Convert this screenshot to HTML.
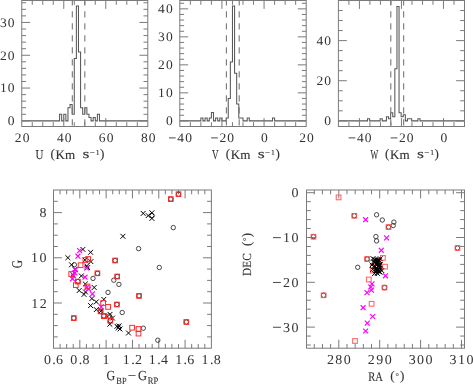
<!DOCTYPE html>
<html><head><meta charset="utf-8"><style>
html,body{margin:0;padding:0;background:#fff;}
svg{display:block;}
text{font-family:"Liberation Serif",serif;fill:#333;text-rendering:geometricPrecision;}
</style></head><body>
<svg width="473" height="384" viewBox="0 0 473 384">
<defs><filter id="gs" x="0" y="0" width="473" height="384" filterUnits="userSpaceOnUse"><feColorMatrix type="saturate" values="0"/></filter></defs>
<rect width="473" height="384" fill="#fff"/>
<path d="M21.75,120.85 L59.57,120.85 L59.57,114.29 L61.67,114.29 L61.67,120.85 L63.77,120.85 L63.77,114.29 L65.87,114.29 L65.87,120.85 L67.97,120.85 L67.97,107.73 L70.07,107.73 L70.07,104.45 L72.17,104.45 L72.17,114.29 L74.27,114.29 L74.27,58.53 L76.37,58.53 L76.37,6.05 L78.47,6.05 L78.47,51.97 L80.57,51.97 L80.57,107.73 L82.67,107.73 L82.67,114.29 L84.78,114.29 L84.78,107.73 L86.88,107.73 L86.88,114.29 L88.98,114.29 L88.98,117.57 L91.08,117.57 L91.08,120.85 L93.18,120.85 L93.18,117.57 L95.28,117.57 L95.28,120.85 L97.38,120.85 L97.38,114.29 L99.48,114.29 L99.48,120.85 L147.80,120.85" fill="none" stroke="#585858" stroke-width="1.05" stroke-linejoin="miter"/>
<line x1="72.32" y1="0.50" x2="72.32" y2="126.50" stroke="#777" stroke-width="1.1" stroke-dasharray="6.3 5.7" stroke-dashoffset="1.2"/>
<line x1="84.82" y1="0.50" x2="84.82" y2="126.50" stroke="#777" stroke-width="1.1" stroke-dasharray="6.3 5.7" stroke-dashoffset="1.2"/>
<rect x="21.75" y="0.50" width="126.05" height="126.00" fill="none" stroke="#7a7a7a" stroke-width="1.0"/>
<line x1="32.25" y1="126.50" x2="32.25" y2="122.20" stroke="#7a7a7a" stroke-width="1.0" />
<line x1="32.25" y1="0.50" x2="32.25" y2="4.80" stroke="#7a7a7a" stroke-width="1.0" />
<line x1="42.76" y1="126.50" x2="42.76" y2="122.20" stroke="#7a7a7a" stroke-width="1.0" />
<line x1="42.76" y1="0.50" x2="42.76" y2="4.80" stroke="#7a7a7a" stroke-width="1.0" />
<line x1="53.26" y1="126.50" x2="53.26" y2="122.20" stroke="#7a7a7a" stroke-width="1.0" />
<line x1="53.26" y1="0.50" x2="53.26" y2="4.80" stroke="#7a7a7a" stroke-width="1.0" />
<line x1="63.77" y1="126.50" x2="63.77" y2="118.10" stroke="#7a7a7a" stroke-width="1.0" />
<line x1="63.77" y1="0.50" x2="63.77" y2="8.90" stroke="#7a7a7a" stroke-width="1.0" />
<line x1="74.27" y1="126.50" x2="74.27" y2="122.20" stroke="#7a7a7a" stroke-width="1.0" />
<line x1="74.27" y1="0.50" x2="74.27" y2="4.80" stroke="#7a7a7a" stroke-width="1.0" />
<line x1="84.78" y1="126.50" x2="84.78" y2="122.20" stroke="#7a7a7a" stroke-width="1.0" />
<line x1="84.78" y1="0.50" x2="84.78" y2="4.80" stroke="#7a7a7a" stroke-width="1.0" />
<line x1="95.28" y1="126.50" x2="95.28" y2="122.20" stroke="#7a7a7a" stroke-width="1.0" />
<line x1="95.28" y1="0.50" x2="95.28" y2="4.80" stroke="#7a7a7a" stroke-width="1.0" />
<line x1="105.78" y1="126.50" x2="105.78" y2="118.10" stroke="#7a7a7a" stroke-width="1.0" />
<line x1="105.78" y1="0.50" x2="105.78" y2="8.90" stroke="#7a7a7a" stroke-width="1.0" />
<line x1="116.29" y1="126.50" x2="116.29" y2="122.20" stroke="#7a7a7a" stroke-width="1.0" />
<line x1="116.29" y1="0.50" x2="116.29" y2="4.80" stroke="#7a7a7a" stroke-width="1.0" />
<line x1="126.79" y1="126.50" x2="126.79" y2="122.20" stroke="#7a7a7a" stroke-width="1.0" />
<line x1="126.79" y1="0.50" x2="126.79" y2="4.80" stroke="#7a7a7a" stroke-width="1.0" />
<line x1="137.30" y1="126.50" x2="137.30" y2="122.20" stroke="#7a7a7a" stroke-width="1.0" />
<line x1="137.30" y1="0.50" x2="137.30" y2="4.80" stroke="#7a7a7a" stroke-width="1.0" />
<line x1="21.75" y1="120.85" x2="30.15" y2="120.85" stroke="#7a7a7a" stroke-width="1.0" />
<line x1="147.80" y1="120.85" x2="139.40" y2="120.85" stroke="#7a7a7a" stroke-width="1.0" />
<line x1="21.75" y1="114.29" x2="26.05" y2="114.29" stroke="#7a7a7a" stroke-width="1.0" />
<line x1="147.80" y1="114.29" x2="143.50" y2="114.29" stroke="#7a7a7a" stroke-width="1.0" />
<line x1="21.75" y1="107.73" x2="26.05" y2="107.73" stroke="#7a7a7a" stroke-width="1.0" />
<line x1="147.80" y1="107.73" x2="143.50" y2="107.73" stroke="#7a7a7a" stroke-width="1.0" />
<line x1="21.75" y1="101.17" x2="26.05" y2="101.17" stroke="#7a7a7a" stroke-width="1.0" />
<line x1="147.80" y1="101.17" x2="143.50" y2="101.17" stroke="#7a7a7a" stroke-width="1.0" />
<line x1="21.75" y1="94.61" x2="26.05" y2="94.61" stroke="#7a7a7a" stroke-width="1.0" />
<line x1="147.80" y1="94.61" x2="143.50" y2="94.61" stroke="#7a7a7a" stroke-width="1.0" />
<line x1="21.75" y1="88.05" x2="30.15" y2="88.05" stroke="#7a7a7a" stroke-width="1.0" />
<line x1="147.80" y1="88.05" x2="139.40" y2="88.05" stroke="#7a7a7a" stroke-width="1.0" />
<line x1="21.75" y1="81.49" x2="26.05" y2="81.49" stroke="#7a7a7a" stroke-width="1.0" />
<line x1="147.80" y1="81.49" x2="143.50" y2="81.49" stroke="#7a7a7a" stroke-width="1.0" />
<line x1="21.75" y1="74.93" x2="26.05" y2="74.93" stroke="#7a7a7a" stroke-width="1.0" />
<line x1="147.80" y1="74.93" x2="143.50" y2="74.93" stroke="#7a7a7a" stroke-width="1.0" />
<line x1="21.75" y1="68.37" x2="26.05" y2="68.37" stroke="#7a7a7a" stroke-width="1.0" />
<line x1="147.80" y1="68.37" x2="143.50" y2="68.37" stroke="#7a7a7a" stroke-width="1.0" />
<line x1="21.75" y1="61.81" x2="26.05" y2="61.81" stroke="#7a7a7a" stroke-width="1.0" />
<line x1="147.80" y1="61.81" x2="143.50" y2="61.81" stroke="#7a7a7a" stroke-width="1.0" />
<line x1="21.75" y1="55.25" x2="30.15" y2="55.25" stroke="#7a7a7a" stroke-width="1.0" />
<line x1="147.80" y1="55.25" x2="139.40" y2="55.25" stroke="#7a7a7a" stroke-width="1.0" />
<line x1="21.75" y1="48.69" x2="26.05" y2="48.69" stroke="#7a7a7a" stroke-width="1.0" />
<line x1="147.80" y1="48.69" x2="143.50" y2="48.69" stroke="#7a7a7a" stroke-width="1.0" />
<line x1="21.75" y1="42.13" x2="26.05" y2="42.13" stroke="#7a7a7a" stroke-width="1.0" />
<line x1="147.80" y1="42.13" x2="143.50" y2="42.13" stroke="#7a7a7a" stroke-width="1.0" />
<line x1="21.75" y1="35.57" x2="26.05" y2="35.57" stroke="#7a7a7a" stroke-width="1.0" />
<line x1="147.80" y1="35.57" x2="143.50" y2="35.57" stroke="#7a7a7a" stroke-width="1.0" />
<line x1="21.75" y1="29.01" x2="26.05" y2="29.01" stroke="#7a7a7a" stroke-width="1.0" />
<line x1="147.80" y1="29.01" x2="143.50" y2="29.01" stroke="#7a7a7a" stroke-width="1.0" />
<line x1="21.75" y1="22.45" x2="30.15" y2="22.45" stroke="#7a7a7a" stroke-width="1.0" />
<line x1="147.80" y1="22.45" x2="139.40" y2="22.45" stroke="#7a7a7a" stroke-width="1.0" />
<line x1="21.75" y1="15.89" x2="26.05" y2="15.89" stroke="#7a7a7a" stroke-width="1.0" />
<line x1="147.80" y1="15.89" x2="143.50" y2="15.89" stroke="#7a7a7a" stroke-width="1.0" />
<line x1="21.75" y1="9.33" x2="26.05" y2="9.33" stroke="#7a7a7a" stroke-width="1.0" />
<line x1="147.80" y1="9.33" x2="143.50" y2="9.33" stroke="#7a7a7a" stroke-width="1.0" />
<line x1="21.75" y1="2.77" x2="26.05" y2="2.77" stroke="#7a7a7a" stroke-width="1.0" />
<line x1="147.80" y1="2.77" x2="143.50" y2="2.77" stroke="#7a7a7a" stroke-width="1.0" />
<path d="M179.80,120.85 L200.87,120.85 L200.87,118.05 L202.97,118.05 L202.97,120.85 L205.08,120.85 L205.08,118.05 L207.19,118.05 L207.19,120.85 L209.29,120.85 L209.29,118.05 L211.40,118.05 L211.40,112.45 L213.51,112.45 L213.51,120.85 L215.61,120.85 L215.61,118.05 L217.72,118.05 L217.72,120.85 L219.83,120.85 L219.83,118.05 L221.93,118.05 L221.93,120.85 L226.15,120.85 L226.15,118.05 L228.25,118.05 L228.25,98.45 L230.36,98.45 L230.36,62.05 L232.47,62.05 L232.47,6.05 L234.57,6.05 L234.57,73.25 L236.68,73.25 L236.68,104.05 L238.79,104.05 L238.79,118.05 L243.00,118.05 L243.00,120.85 L247.21,120.85 L247.21,118.05 L249.32,118.05 L249.32,120.85 L272.49,120.85 L272.49,118.05 L274.60,118.05 L274.60,120.85 L306.20,120.85" fill="none" stroke="#585858" stroke-width="1.05" stroke-linejoin="miter"/>
<line x1="226.40" y1="0.50" x2="226.40" y2="126.50" stroke="#777" stroke-width="1.1" stroke-dasharray="6.3 5.7" stroke-dashoffset="1.2"/>
<line x1="239.21" y1="0.50" x2="239.21" y2="126.50" stroke="#777" stroke-width="1.1" stroke-dasharray="6.3 5.7" stroke-dashoffset="1.2"/>
<rect x="179.80" y="0.50" width="126.40" height="126.00" fill="none" stroke="#7a7a7a" stroke-width="1.0"/>
<line x1="190.33" y1="126.50" x2="190.33" y2="122.20" stroke="#7a7a7a" stroke-width="1.0" />
<line x1="190.33" y1="0.50" x2="190.33" y2="4.80" stroke="#7a7a7a" stroke-width="1.0" />
<line x1="200.87" y1="126.50" x2="200.87" y2="122.20" stroke="#7a7a7a" stroke-width="1.0" />
<line x1="200.87" y1="0.50" x2="200.87" y2="4.80" stroke="#7a7a7a" stroke-width="1.0" />
<line x1="211.40" y1="126.50" x2="211.40" y2="122.20" stroke="#7a7a7a" stroke-width="1.0" />
<line x1="211.40" y1="0.50" x2="211.40" y2="4.80" stroke="#7a7a7a" stroke-width="1.0" />
<line x1="221.93" y1="126.50" x2="221.93" y2="118.10" stroke="#7a7a7a" stroke-width="1.0" />
<line x1="221.93" y1="0.50" x2="221.93" y2="8.90" stroke="#7a7a7a" stroke-width="1.0" />
<line x1="232.47" y1="126.50" x2="232.47" y2="122.20" stroke="#7a7a7a" stroke-width="1.0" />
<line x1="232.47" y1="0.50" x2="232.47" y2="4.80" stroke="#7a7a7a" stroke-width="1.0" />
<line x1="243.00" y1="126.50" x2="243.00" y2="122.20" stroke="#7a7a7a" stroke-width="1.0" />
<line x1="243.00" y1="0.50" x2="243.00" y2="4.80" stroke="#7a7a7a" stroke-width="1.0" />
<line x1="253.53" y1="126.50" x2="253.53" y2="122.20" stroke="#7a7a7a" stroke-width="1.0" />
<line x1="253.53" y1="0.50" x2="253.53" y2="4.80" stroke="#7a7a7a" stroke-width="1.0" />
<line x1="264.07" y1="126.50" x2="264.07" y2="118.10" stroke="#7a7a7a" stroke-width="1.0" />
<line x1="264.07" y1="0.50" x2="264.07" y2="8.90" stroke="#7a7a7a" stroke-width="1.0" />
<line x1="274.60" y1="126.50" x2="274.60" y2="122.20" stroke="#7a7a7a" stroke-width="1.0" />
<line x1="274.60" y1="0.50" x2="274.60" y2="4.80" stroke="#7a7a7a" stroke-width="1.0" />
<line x1="285.13" y1="126.50" x2="285.13" y2="122.20" stroke="#7a7a7a" stroke-width="1.0" />
<line x1="285.13" y1="0.50" x2="285.13" y2="4.80" stroke="#7a7a7a" stroke-width="1.0" />
<line x1="295.67" y1="126.50" x2="295.67" y2="122.20" stroke="#7a7a7a" stroke-width="1.0" />
<line x1="295.67" y1="0.50" x2="295.67" y2="4.80" stroke="#7a7a7a" stroke-width="1.0" />
<line x1="179.80" y1="120.85" x2="188.20" y2="120.85" stroke="#7a7a7a" stroke-width="1.0" />
<line x1="306.20" y1="120.85" x2="297.80" y2="120.85" stroke="#7a7a7a" stroke-width="1.0" />
<line x1="179.80" y1="115.25" x2="184.10" y2="115.25" stroke="#7a7a7a" stroke-width="1.0" />
<line x1="306.20" y1="115.25" x2="301.90" y2="115.25" stroke="#7a7a7a" stroke-width="1.0" />
<line x1="179.80" y1="109.65" x2="184.10" y2="109.65" stroke="#7a7a7a" stroke-width="1.0" />
<line x1="306.20" y1="109.65" x2="301.90" y2="109.65" stroke="#7a7a7a" stroke-width="1.0" />
<line x1="179.80" y1="104.05" x2="184.10" y2="104.05" stroke="#7a7a7a" stroke-width="1.0" />
<line x1="306.20" y1="104.05" x2="301.90" y2="104.05" stroke="#7a7a7a" stroke-width="1.0" />
<line x1="179.80" y1="98.45" x2="184.10" y2="98.45" stroke="#7a7a7a" stroke-width="1.0" />
<line x1="306.20" y1="98.45" x2="301.90" y2="98.45" stroke="#7a7a7a" stroke-width="1.0" />
<line x1="179.80" y1="92.85" x2="188.20" y2="92.85" stroke="#7a7a7a" stroke-width="1.0" />
<line x1="306.20" y1="92.85" x2="297.80" y2="92.85" stroke="#7a7a7a" stroke-width="1.0" />
<line x1="179.80" y1="87.25" x2="184.10" y2="87.25" stroke="#7a7a7a" stroke-width="1.0" />
<line x1="306.20" y1="87.25" x2="301.90" y2="87.25" stroke="#7a7a7a" stroke-width="1.0" />
<line x1="179.80" y1="81.65" x2="184.10" y2="81.65" stroke="#7a7a7a" stroke-width="1.0" />
<line x1="306.20" y1="81.65" x2="301.90" y2="81.65" stroke="#7a7a7a" stroke-width="1.0" />
<line x1="179.80" y1="76.05" x2="184.10" y2="76.05" stroke="#7a7a7a" stroke-width="1.0" />
<line x1="306.20" y1="76.05" x2="301.90" y2="76.05" stroke="#7a7a7a" stroke-width="1.0" />
<line x1="179.80" y1="70.45" x2="184.10" y2="70.45" stroke="#7a7a7a" stroke-width="1.0" />
<line x1="306.20" y1="70.45" x2="301.90" y2="70.45" stroke="#7a7a7a" stroke-width="1.0" />
<line x1="179.80" y1="64.85" x2="188.20" y2="64.85" stroke="#7a7a7a" stroke-width="1.0" />
<line x1="306.20" y1="64.85" x2="297.80" y2="64.85" stroke="#7a7a7a" stroke-width="1.0" />
<line x1="179.80" y1="59.25" x2="184.10" y2="59.25" stroke="#7a7a7a" stroke-width="1.0" />
<line x1="306.20" y1="59.25" x2="301.90" y2="59.25" stroke="#7a7a7a" stroke-width="1.0" />
<line x1="179.80" y1="53.65" x2="184.10" y2="53.65" stroke="#7a7a7a" stroke-width="1.0" />
<line x1="306.20" y1="53.65" x2="301.90" y2="53.65" stroke="#7a7a7a" stroke-width="1.0" />
<line x1="179.80" y1="48.05" x2="184.10" y2="48.05" stroke="#7a7a7a" stroke-width="1.0" />
<line x1="306.20" y1="48.05" x2="301.90" y2="48.05" stroke="#7a7a7a" stroke-width="1.0" />
<line x1="179.80" y1="42.45" x2="184.10" y2="42.45" stroke="#7a7a7a" stroke-width="1.0" />
<line x1="306.20" y1="42.45" x2="301.90" y2="42.45" stroke="#7a7a7a" stroke-width="1.0" />
<line x1="179.80" y1="36.85" x2="188.20" y2="36.85" stroke="#7a7a7a" stroke-width="1.0" />
<line x1="306.20" y1="36.85" x2="297.80" y2="36.85" stroke="#7a7a7a" stroke-width="1.0" />
<line x1="179.80" y1="31.25" x2="184.10" y2="31.25" stroke="#7a7a7a" stroke-width="1.0" />
<line x1="306.20" y1="31.25" x2="301.90" y2="31.25" stroke="#7a7a7a" stroke-width="1.0" />
<line x1="179.80" y1="25.65" x2="184.10" y2="25.65" stroke="#7a7a7a" stroke-width="1.0" />
<line x1="306.20" y1="25.65" x2="301.90" y2="25.65" stroke="#7a7a7a" stroke-width="1.0" />
<line x1="179.80" y1="20.05" x2="184.10" y2="20.05" stroke="#7a7a7a" stroke-width="1.0" />
<line x1="306.20" y1="20.05" x2="301.90" y2="20.05" stroke="#7a7a7a" stroke-width="1.0" />
<line x1="179.80" y1="14.45" x2="184.10" y2="14.45" stroke="#7a7a7a" stroke-width="1.0" />
<line x1="306.20" y1="14.45" x2="301.90" y2="14.45" stroke="#7a7a7a" stroke-width="1.0" />
<line x1="179.80" y1="8.85" x2="188.20" y2="8.85" stroke="#7a7a7a" stroke-width="1.0" />
<line x1="306.20" y1="8.85" x2="297.80" y2="8.85" stroke="#7a7a7a" stroke-width="1.0" />
<line x1="179.80" y1="3.25" x2="184.10" y2="3.25" stroke="#7a7a7a" stroke-width="1.0" />
<line x1="306.20" y1="3.25" x2="301.90" y2="3.25" stroke="#7a7a7a" stroke-width="1.0" />
<path d="M338.40,120.85 L367.52,120.85 L367.52,118.84 L369.62,118.84 L369.62,120.85 L380.13,120.85 L380.13,118.84 L382.23,118.84 L382.23,120.85 L386.44,120.85 L386.44,116.84 L388.54,116.84 L388.54,118.84 L390.64,118.84 L390.64,112.83 L392.74,112.83 L392.74,116.84 L394.84,116.84 L394.84,68.69 L396.95,68.69 L396.95,6.51 L399.05,6.51 L399.05,112.83 L401.15,112.83 L401.15,116.84 L403.25,116.84 L403.25,114.83 L405.35,114.83 L405.35,120.85 L407.45,120.85 L407.45,118.84 L411.66,118.84 L411.66,120.85 L417.96,120.85 L417.96,118.84 L420.06,118.84 L420.06,120.85 L464.50,120.85" fill="none" stroke="#585858" stroke-width="1.05" stroke-linejoin="miter"/>
<line x1="390.79" y1="0.50" x2="390.79" y2="126.50" stroke="#777" stroke-width="1.1" stroke-dasharray="6.3 5.7" stroke-dashoffset="1.2"/>
<line x1="403.66" y1="0.50" x2="403.66" y2="126.50" stroke="#777" stroke-width="1.1" stroke-dasharray="6.3 5.7" stroke-dashoffset="1.2"/>
<rect x="338.40" y="0.50" width="126.10" height="126.00" fill="none" stroke="#7a7a7a" stroke-width="1.0"/>
<line x1="348.91" y1="126.50" x2="348.91" y2="122.20" stroke="#7a7a7a" stroke-width="1.0" />
<line x1="348.91" y1="0.50" x2="348.91" y2="4.80" stroke="#7a7a7a" stroke-width="1.0" />
<line x1="359.42" y1="126.50" x2="359.42" y2="118.10" stroke="#7a7a7a" stroke-width="1.0" />
<line x1="359.42" y1="0.50" x2="359.42" y2="8.90" stroke="#7a7a7a" stroke-width="1.0" />
<line x1="369.92" y1="126.50" x2="369.92" y2="122.20" stroke="#7a7a7a" stroke-width="1.0" />
<line x1="369.92" y1="0.50" x2="369.92" y2="4.80" stroke="#7a7a7a" stroke-width="1.0" />
<line x1="380.43" y1="126.50" x2="380.43" y2="122.20" stroke="#7a7a7a" stroke-width="1.0" />
<line x1="380.43" y1="0.50" x2="380.43" y2="4.80" stroke="#7a7a7a" stroke-width="1.0" />
<line x1="390.94" y1="126.50" x2="390.94" y2="122.20" stroke="#7a7a7a" stroke-width="1.0" />
<line x1="390.94" y1="0.50" x2="390.94" y2="4.80" stroke="#7a7a7a" stroke-width="1.0" />
<line x1="401.45" y1="126.50" x2="401.45" y2="118.10" stroke="#7a7a7a" stroke-width="1.0" />
<line x1="401.45" y1="0.50" x2="401.45" y2="8.90" stroke="#7a7a7a" stroke-width="1.0" />
<line x1="411.96" y1="126.50" x2="411.96" y2="122.20" stroke="#7a7a7a" stroke-width="1.0" />
<line x1="411.96" y1="0.50" x2="411.96" y2="4.80" stroke="#7a7a7a" stroke-width="1.0" />
<line x1="422.47" y1="126.50" x2="422.47" y2="122.20" stroke="#7a7a7a" stroke-width="1.0" />
<line x1="422.47" y1="0.50" x2="422.47" y2="4.80" stroke="#7a7a7a" stroke-width="1.0" />
<line x1="432.98" y1="126.50" x2="432.98" y2="122.20" stroke="#7a7a7a" stroke-width="1.0" />
<line x1="432.98" y1="0.50" x2="432.98" y2="4.80" stroke="#7a7a7a" stroke-width="1.0" />
<line x1="443.48" y1="126.50" x2="443.48" y2="118.10" stroke="#7a7a7a" stroke-width="1.0" />
<line x1="443.48" y1="0.50" x2="443.48" y2="8.90" stroke="#7a7a7a" stroke-width="1.0" />
<line x1="453.99" y1="126.50" x2="453.99" y2="122.20" stroke="#7a7a7a" stroke-width="1.0" />
<line x1="453.99" y1="0.50" x2="453.99" y2="4.80" stroke="#7a7a7a" stroke-width="1.0" />
<line x1="338.40" y1="120.85" x2="346.80" y2="120.85" stroke="#7a7a7a" stroke-width="1.0" />
<line x1="464.50" y1="120.85" x2="456.10" y2="120.85" stroke="#7a7a7a" stroke-width="1.0" />
<line x1="338.40" y1="110.82" x2="342.70" y2="110.82" stroke="#7a7a7a" stroke-width="1.0" />
<line x1="464.50" y1="110.82" x2="460.20" y2="110.82" stroke="#7a7a7a" stroke-width="1.0" />
<line x1="338.40" y1="100.79" x2="342.70" y2="100.79" stroke="#7a7a7a" stroke-width="1.0" />
<line x1="464.50" y1="100.79" x2="460.20" y2="100.79" stroke="#7a7a7a" stroke-width="1.0" />
<line x1="338.40" y1="90.76" x2="342.70" y2="90.76" stroke="#7a7a7a" stroke-width="1.0" />
<line x1="464.50" y1="90.76" x2="460.20" y2="90.76" stroke="#7a7a7a" stroke-width="1.0" />
<line x1="338.40" y1="80.73" x2="346.80" y2="80.73" stroke="#7a7a7a" stroke-width="1.0" />
<line x1="464.50" y1="80.73" x2="456.10" y2="80.73" stroke="#7a7a7a" stroke-width="1.0" />
<line x1="338.40" y1="70.70" x2="342.70" y2="70.70" stroke="#7a7a7a" stroke-width="1.0" />
<line x1="464.50" y1="70.70" x2="460.20" y2="70.70" stroke="#7a7a7a" stroke-width="1.0" />
<line x1="338.40" y1="60.67" x2="342.70" y2="60.67" stroke="#7a7a7a" stroke-width="1.0" />
<line x1="464.50" y1="60.67" x2="460.20" y2="60.67" stroke="#7a7a7a" stroke-width="1.0" />
<line x1="338.40" y1="50.64" x2="342.70" y2="50.64" stroke="#7a7a7a" stroke-width="1.0" />
<line x1="464.50" y1="50.64" x2="460.20" y2="50.64" stroke="#7a7a7a" stroke-width="1.0" />
<line x1="338.40" y1="40.61" x2="346.80" y2="40.61" stroke="#7a7a7a" stroke-width="1.0" />
<line x1="464.50" y1="40.61" x2="456.10" y2="40.61" stroke="#7a7a7a" stroke-width="1.0" />
<line x1="338.40" y1="30.58" x2="342.70" y2="30.58" stroke="#7a7a7a" stroke-width="1.0" />
<line x1="464.50" y1="30.58" x2="460.20" y2="30.58" stroke="#7a7a7a" stroke-width="1.0" />
<line x1="338.40" y1="20.55" x2="342.70" y2="20.55" stroke="#7a7a7a" stroke-width="1.0" />
<line x1="464.50" y1="20.55" x2="460.20" y2="20.55" stroke="#7a7a7a" stroke-width="1.0" />
<line x1="338.40" y1="10.52" x2="342.70" y2="10.52" stroke="#7a7a7a" stroke-width="1.0" />
<line x1="464.50" y1="10.52" x2="460.20" y2="10.52" stroke="#7a7a7a" stroke-width="1.0" />
<rect x="53.50" y="190.00" width="157.90" height="158.20" fill="none" stroke="#7a7a7a" stroke-width="1.0"/>
<line x1="60.08" y1="348.20" x2="60.08" y2="343.90" stroke="#7a7a7a" stroke-width="1.0" />
<line x1="60.08" y1="190.00" x2="60.08" y2="194.30" stroke="#7a7a7a" stroke-width="1.0" />
<line x1="66.66" y1="348.20" x2="66.66" y2="343.90" stroke="#7a7a7a" stroke-width="1.0" />
<line x1="66.66" y1="190.00" x2="66.66" y2="194.30" stroke="#7a7a7a" stroke-width="1.0" />
<line x1="73.24" y1="348.20" x2="73.24" y2="343.90" stroke="#7a7a7a" stroke-width="1.0" />
<line x1="73.24" y1="190.00" x2="73.24" y2="194.30" stroke="#7a7a7a" stroke-width="1.0" />
<line x1="79.82" y1="348.20" x2="79.82" y2="339.80" stroke="#7a7a7a" stroke-width="1.0" />
<line x1="79.82" y1="190.00" x2="79.82" y2="198.40" stroke="#7a7a7a" stroke-width="1.0" />
<line x1="86.40" y1="348.20" x2="86.40" y2="343.90" stroke="#7a7a7a" stroke-width="1.0" />
<line x1="86.40" y1="190.00" x2="86.40" y2="194.30" stroke="#7a7a7a" stroke-width="1.0" />
<line x1="92.97" y1="348.20" x2="92.97" y2="343.90" stroke="#7a7a7a" stroke-width="1.0" />
<line x1="92.97" y1="190.00" x2="92.97" y2="194.30" stroke="#7a7a7a" stroke-width="1.0" />
<line x1="99.55" y1="348.20" x2="99.55" y2="343.90" stroke="#7a7a7a" stroke-width="1.0" />
<line x1="99.55" y1="190.00" x2="99.55" y2="194.30" stroke="#7a7a7a" stroke-width="1.0" />
<line x1="106.13" y1="348.20" x2="106.13" y2="339.80" stroke="#7a7a7a" stroke-width="1.0" />
<line x1="106.13" y1="190.00" x2="106.13" y2="198.40" stroke="#7a7a7a" stroke-width="1.0" />
<line x1="112.71" y1="348.20" x2="112.71" y2="343.90" stroke="#7a7a7a" stroke-width="1.0" />
<line x1="112.71" y1="190.00" x2="112.71" y2="194.30" stroke="#7a7a7a" stroke-width="1.0" />
<line x1="119.29" y1="348.20" x2="119.29" y2="343.90" stroke="#7a7a7a" stroke-width="1.0" />
<line x1="119.29" y1="190.00" x2="119.29" y2="194.30" stroke="#7a7a7a" stroke-width="1.0" />
<line x1="125.87" y1="348.20" x2="125.87" y2="343.90" stroke="#7a7a7a" stroke-width="1.0" />
<line x1="125.87" y1="190.00" x2="125.87" y2="194.30" stroke="#7a7a7a" stroke-width="1.0" />
<line x1="132.45" y1="348.20" x2="132.45" y2="339.80" stroke="#7a7a7a" stroke-width="1.0" />
<line x1="132.45" y1="190.00" x2="132.45" y2="198.40" stroke="#7a7a7a" stroke-width="1.0" />
<line x1="139.03" y1="348.20" x2="139.03" y2="343.90" stroke="#7a7a7a" stroke-width="1.0" />
<line x1="139.03" y1="190.00" x2="139.03" y2="194.30" stroke="#7a7a7a" stroke-width="1.0" />
<line x1="145.61" y1="348.20" x2="145.61" y2="343.90" stroke="#7a7a7a" stroke-width="1.0" />
<line x1="145.61" y1="190.00" x2="145.61" y2="194.30" stroke="#7a7a7a" stroke-width="1.0" />
<line x1="152.19" y1="348.20" x2="152.19" y2="343.90" stroke="#7a7a7a" stroke-width="1.0" />
<line x1="152.19" y1="190.00" x2="152.19" y2="194.30" stroke="#7a7a7a" stroke-width="1.0" />
<line x1="158.77" y1="348.20" x2="158.77" y2="339.80" stroke="#7a7a7a" stroke-width="1.0" />
<line x1="158.77" y1="190.00" x2="158.77" y2="198.40" stroke="#7a7a7a" stroke-width="1.0" />
<line x1="165.35" y1="348.20" x2="165.35" y2="343.90" stroke="#7a7a7a" stroke-width="1.0" />
<line x1="165.35" y1="190.00" x2="165.35" y2="194.30" stroke="#7a7a7a" stroke-width="1.0" />
<line x1="171.92" y1="348.20" x2="171.92" y2="343.90" stroke="#7a7a7a" stroke-width="1.0" />
<line x1="171.92" y1="190.00" x2="171.92" y2="194.30" stroke="#7a7a7a" stroke-width="1.0" />
<line x1="178.50" y1="348.20" x2="178.50" y2="343.90" stroke="#7a7a7a" stroke-width="1.0" />
<line x1="178.50" y1="190.00" x2="178.50" y2="194.30" stroke="#7a7a7a" stroke-width="1.0" />
<line x1="185.08" y1="348.20" x2="185.08" y2="339.80" stroke="#7a7a7a" stroke-width="1.0" />
<line x1="185.08" y1="190.00" x2="185.08" y2="198.40" stroke="#7a7a7a" stroke-width="1.0" />
<line x1="191.66" y1="348.20" x2="191.66" y2="343.90" stroke="#7a7a7a" stroke-width="1.0" />
<line x1="191.66" y1="190.00" x2="191.66" y2="194.30" stroke="#7a7a7a" stroke-width="1.0" />
<line x1="198.24" y1="348.20" x2="198.24" y2="343.90" stroke="#7a7a7a" stroke-width="1.0" />
<line x1="198.24" y1="190.00" x2="198.24" y2="194.30" stroke="#7a7a7a" stroke-width="1.0" />
<line x1="204.82" y1="348.20" x2="204.82" y2="343.90" stroke="#7a7a7a" stroke-width="1.0" />
<line x1="204.82" y1="190.00" x2="204.82" y2="194.30" stroke="#7a7a7a" stroke-width="1.0" />
<line x1="53.50" y1="201.30" x2="57.80" y2="201.30" stroke="#7a7a7a" stroke-width="1.0" />
<line x1="211.40" y1="201.30" x2="207.10" y2="201.30" stroke="#7a7a7a" stroke-width="1.0" />
<line x1="53.50" y1="212.60" x2="61.90" y2="212.60" stroke="#7a7a7a" stroke-width="1.0" />
<line x1="211.40" y1="212.60" x2="203.00" y2="212.60" stroke="#7a7a7a" stroke-width="1.0" />
<line x1="53.50" y1="223.90" x2="57.80" y2="223.90" stroke="#7a7a7a" stroke-width="1.0" />
<line x1="211.40" y1="223.90" x2="207.10" y2="223.90" stroke="#7a7a7a" stroke-width="1.0" />
<line x1="53.50" y1="235.20" x2="57.80" y2="235.20" stroke="#7a7a7a" stroke-width="1.0" />
<line x1="211.40" y1="235.20" x2="207.10" y2="235.20" stroke="#7a7a7a" stroke-width="1.0" />
<line x1="53.50" y1="246.50" x2="57.80" y2="246.50" stroke="#7a7a7a" stroke-width="1.0" />
<line x1="211.40" y1="246.50" x2="207.10" y2="246.50" stroke="#7a7a7a" stroke-width="1.0" />
<line x1="53.50" y1="257.80" x2="61.90" y2="257.80" stroke="#7a7a7a" stroke-width="1.0" />
<line x1="211.40" y1="257.80" x2="203.00" y2="257.80" stroke="#7a7a7a" stroke-width="1.0" />
<line x1="53.50" y1="269.10" x2="57.80" y2="269.10" stroke="#7a7a7a" stroke-width="1.0" />
<line x1="211.40" y1="269.10" x2="207.10" y2="269.10" stroke="#7a7a7a" stroke-width="1.0" />
<line x1="53.50" y1="280.40" x2="57.80" y2="280.40" stroke="#7a7a7a" stroke-width="1.0" />
<line x1="211.40" y1="280.40" x2="207.10" y2="280.40" stroke="#7a7a7a" stroke-width="1.0" />
<line x1="53.50" y1="291.70" x2="57.80" y2="291.70" stroke="#7a7a7a" stroke-width="1.0" />
<line x1="211.40" y1="291.70" x2="207.10" y2="291.70" stroke="#7a7a7a" stroke-width="1.0" />
<line x1="53.50" y1="303.00" x2="61.90" y2="303.00" stroke="#7a7a7a" stroke-width="1.0" />
<line x1="211.40" y1="303.00" x2="203.00" y2="303.00" stroke="#7a7a7a" stroke-width="1.0" />
<line x1="53.50" y1="314.30" x2="57.80" y2="314.30" stroke="#7a7a7a" stroke-width="1.0" />
<line x1="211.40" y1="314.30" x2="207.10" y2="314.30" stroke="#7a7a7a" stroke-width="1.0" />
<line x1="53.50" y1="325.60" x2="57.80" y2="325.60" stroke="#7a7a7a" stroke-width="1.0" />
<line x1="211.40" y1="325.60" x2="207.10" y2="325.60" stroke="#7a7a7a" stroke-width="1.0" />
<line x1="53.50" y1="336.90" x2="57.80" y2="336.90" stroke="#7a7a7a" stroke-width="1.0" />
<line x1="211.40" y1="336.90" x2="207.10" y2="336.90" stroke="#7a7a7a" stroke-width="1.0" />
<rect x="306.50" y="190.00" width="158.00" height="158.20" fill="none" stroke="#7a7a7a" stroke-width="1.0"/>
<line x1="314.26" y1="348.20" x2="314.26" y2="343.90" stroke="#7a7a7a" stroke-width="1.0" />
<line x1="314.26" y1="190.00" x2="314.26" y2="194.30" stroke="#7a7a7a" stroke-width="1.0" />
<line x1="322.44" y1="348.20" x2="322.44" y2="343.90" stroke="#7a7a7a" stroke-width="1.0" />
<line x1="322.44" y1="190.00" x2="322.44" y2="194.30" stroke="#7a7a7a" stroke-width="1.0" />
<line x1="330.62" y1="348.20" x2="330.62" y2="343.90" stroke="#7a7a7a" stroke-width="1.0" />
<line x1="330.62" y1="190.00" x2="330.62" y2="194.30" stroke="#7a7a7a" stroke-width="1.0" />
<line x1="338.80" y1="348.20" x2="338.80" y2="339.80" stroke="#7a7a7a" stroke-width="1.0" />
<line x1="338.80" y1="190.00" x2="338.80" y2="198.40" stroke="#7a7a7a" stroke-width="1.0" />
<line x1="346.98" y1="348.20" x2="346.98" y2="343.90" stroke="#7a7a7a" stroke-width="1.0" />
<line x1="346.98" y1="190.00" x2="346.98" y2="194.30" stroke="#7a7a7a" stroke-width="1.0" />
<line x1="355.16" y1="348.20" x2="355.16" y2="343.90" stroke="#7a7a7a" stroke-width="1.0" />
<line x1="355.16" y1="190.00" x2="355.16" y2="194.30" stroke="#7a7a7a" stroke-width="1.0" />
<line x1="363.34" y1="348.20" x2="363.34" y2="343.90" stroke="#7a7a7a" stroke-width="1.0" />
<line x1="363.34" y1="190.00" x2="363.34" y2="194.30" stroke="#7a7a7a" stroke-width="1.0" />
<line x1="371.52" y1="348.20" x2="371.52" y2="343.90" stroke="#7a7a7a" stroke-width="1.0" />
<line x1="371.52" y1="190.00" x2="371.52" y2="194.30" stroke="#7a7a7a" stroke-width="1.0" />
<line x1="379.70" y1="348.20" x2="379.70" y2="339.80" stroke="#7a7a7a" stroke-width="1.0" />
<line x1="379.70" y1="190.00" x2="379.70" y2="198.40" stroke="#7a7a7a" stroke-width="1.0" />
<line x1="387.88" y1="348.20" x2="387.88" y2="343.90" stroke="#7a7a7a" stroke-width="1.0" />
<line x1="387.88" y1="190.00" x2="387.88" y2="194.30" stroke="#7a7a7a" stroke-width="1.0" />
<line x1="396.06" y1="348.20" x2="396.06" y2="343.90" stroke="#7a7a7a" stroke-width="1.0" />
<line x1="396.06" y1="190.00" x2="396.06" y2="194.30" stroke="#7a7a7a" stroke-width="1.0" />
<line x1="404.24" y1="348.20" x2="404.24" y2="343.90" stroke="#7a7a7a" stroke-width="1.0" />
<line x1="404.24" y1="190.00" x2="404.24" y2="194.30" stroke="#7a7a7a" stroke-width="1.0" />
<line x1="412.42" y1="348.20" x2="412.42" y2="343.90" stroke="#7a7a7a" stroke-width="1.0" />
<line x1="412.42" y1="190.00" x2="412.42" y2="194.30" stroke="#7a7a7a" stroke-width="1.0" />
<line x1="420.60" y1="348.20" x2="420.60" y2="339.80" stroke="#7a7a7a" stroke-width="1.0" />
<line x1="420.60" y1="190.00" x2="420.60" y2="198.40" stroke="#7a7a7a" stroke-width="1.0" />
<line x1="428.78" y1="348.20" x2="428.78" y2="343.90" stroke="#7a7a7a" stroke-width="1.0" />
<line x1="428.78" y1="190.00" x2="428.78" y2="194.30" stroke="#7a7a7a" stroke-width="1.0" />
<line x1="436.96" y1="348.20" x2="436.96" y2="343.90" stroke="#7a7a7a" stroke-width="1.0" />
<line x1="436.96" y1="190.00" x2="436.96" y2="194.30" stroke="#7a7a7a" stroke-width="1.0" />
<line x1="445.14" y1="348.20" x2="445.14" y2="343.90" stroke="#7a7a7a" stroke-width="1.0" />
<line x1="445.14" y1="190.00" x2="445.14" y2="194.30" stroke="#7a7a7a" stroke-width="1.0" />
<line x1="453.32" y1="348.20" x2="453.32" y2="343.90" stroke="#7a7a7a" stroke-width="1.0" />
<line x1="453.32" y1="190.00" x2="453.32" y2="194.30" stroke="#7a7a7a" stroke-width="1.0" />
<line x1="461.50" y1="348.20" x2="461.50" y2="339.80" stroke="#7a7a7a" stroke-width="1.0" />
<line x1="461.50" y1="190.00" x2="461.50" y2="198.40" stroke="#7a7a7a" stroke-width="1.0" />
<line x1="306.50" y1="345.02" x2="310.80" y2="345.02" stroke="#7a7a7a" stroke-width="1.0" />
<line x1="464.50" y1="345.02" x2="460.20" y2="345.02" stroke="#7a7a7a" stroke-width="1.0" />
<line x1="306.50" y1="336.06" x2="310.80" y2="336.06" stroke="#7a7a7a" stroke-width="1.0" />
<line x1="464.50" y1="336.06" x2="460.20" y2="336.06" stroke="#7a7a7a" stroke-width="1.0" />
<line x1="306.50" y1="327.10" x2="314.90" y2="327.10" stroke="#7a7a7a" stroke-width="1.0" />
<line x1="464.50" y1="327.10" x2="456.10" y2="327.10" stroke="#7a7a7a" stroke-width="1.0" />
<line x1="306.50" y1="318.14" x2="310.80" y2="318.14" stroke="#7a7a7a" stroke-width="1.0" />
<line x1="464.50" y1="318.14" x2="460.20" y2="318.14" stroke="#7a7a7a" stroke-width="1.0" />
<line x1="306.50" y1="309.18" x2="310.80" y2="309.18" stroke="#7a7a7a" stroke-width="1.0" />
<line x1="464.50" y1="309.18" x2="460.20" y2="309.18" stroke="#7a7a7a" stroke-width="1.0" />
<line x1="306.50" y1="300.22" x2="310.80" y2="300.22" stroke="#7a7a7a" stroke-width="1.0" />
<line x1="464.50" y1="300.22" x2="460.20" y2="300.22" stroke="#7a7a7a" stroke-width="1.0" />
<line x1="306.50" y1="291.26" x2="310.80" y2="291.26" stroke="#7a7a7a" stroke-width="1.0" />
<line x1="464.50" y1="291.26" x2="460.20" y2="291.26" stroke="#7a7a7a" stroke-width="1.0" />
<line x1="306.50" y1="282.30" x2="314.90" y2="282.30" stroke="#7a7a7a" stroke-width="1.0" />
<line x1="464.50" y1="282.30" x2="456.10" y2="282.30" stroke="#7a7a7a" stroke-width="1.0" />
<line x1="306.50" y1="273.34" x2="310.80" y2="273.34" stroke="#7a7a7a" stroke-width="1.0" />
<line x1="464.50" y1="273.34" x2="460.20" y2="273.34" stroke="#7a7a7a" stroke-width="1.0" />
<line x1="306.50" y1="264.38" x2="310.80" y2="264.38" stroke="#7a7a7a" stroke-width="1.0" />
<line x1="464.50" y1="264.38" x2="460.20" y2="264.38" stroke="#7a7a7a" stroke-width="1.0" />
<line x1="306.50" y1="255.42" x2="310.80" y2="255.42" stroke="#7a7a7a" stroke-width="1.0" />
<line x1="464.50" y1="255.42" x2="460.20" y2="255.42" stroke="#7a7a7a" stroke-width="1.0" />
<line x1="306.50" y1="246.46" x2="310.80" y2="246.46" stroke="#7a7a7a" stroke-width="1.0" />
<line x1="464.50" y1="246.46" x2="460.20" y2="246.46" stroke="#7a7a7a" stroke-width="1.0" />
<line x1="306.50" y1="237.50" x2="314.90" y2="237.50" stroke="#7a7a7a" stroke-width="1.0" />
<line x1="464.50" y1="237.50" x2="456.10" y2="237.50" stroke="#7a7a7a" stroke-width="1.0" />
<line x1="306.50" y1="228.54" x2="310.80" y2="228.54" stroke="#7a7a7a" stroke-width="1.0" />
<line x1="464.50" y1="228.54" x2="460.20" y2="228.54" stroke="#7a7a7a" stroke-width="1.0" />
<line x1="306.50" y1="219.58" x2="310.80" y2="219.58" stroke="#7a7a7a" stroke-width="1.0" />
<line x1="464.50" y1="219.58" x2="460.20" y2="219.58" stroke="#7a7a7a" stroke-width="1.0" />
<line x1="306.50" y1="210.62" x2="310.80" y2="210.62" stroke="#7a7a7a" stroke-width="1.0" />
<line x1="464.50" y1="210.62" x2="460.20" y2="210.62" stroke="#7a7a7a" stroke-width="1.0" />
<line x1="306.50" y1="201.66" x2="310.80" y2="201.66" stroke="#7a7a7a" stroke-width="1.0" />
<line x1="464.50" y1="201.66" x2="460.20" y2="201.66" stroke="#7a7a7a" stroke-width="1.0" />
<line x1="306.50" y1="192.70" x2="314.90" y2="192.70" stroke="#7a7a7a" stroke-width="1.0" />
<line x1="464.50" y1="192.70" x2="456.10" y2="192.70" stroke="#7a7a7a" stroke-width="1.0" />
<circle cx="74.40" cy="264.80" r="2.2" fill="none" stroke="#333" stroke-width="0.9"/>
<circle cx="93.00" cy="278.40" r="2.2" fill="none" stroke="#333" stroke-width="0.9"/>
<circle cx="113.80" cy="280.20" r="2.2" fill="none" stroke="#333" stroke-width="0.9"/>
<circle cx="118.90" cy="284.40" r="2.2" fill="none" stroke="#333" stroke-width="0.9"/>
<circle cx="108.00" cy="292.40" r="2.2" fill="none" stroke="#333" stroke-width="0.9"/>
<circle cx="122.20" cy="312.50" r="2.2" fill="none" stroke="#333" stroke-width="0.9"/>
<circle cx="138.60" cy="248.60" r="2.2" fill="none" stroke="#333" stroke-width="0.9"/>
<circle cx="159.30" cy="267.50" r="2.2" fill="none" stroke="#333" stroke-width="0.9"/>
<circle cx="173.30" cy="227.60" r="2.2" fill="none" stroke="#333" stroke-width="0.9"/>
<circle cx="151.90" cy="215.60" r="2.2" fill="none" stroke="#333" stroke-width="0.9"/>
<circle cx="143.30" cy="328.20" r="2.2" fill="none" stroke="#333" stroke-width="0.9"/>
<circle cx="157.80" cy="340.20" r="2.2" fill="none" stroke="#333" stroke-width="0.9"/>
<circle cx="109.20" cy="316.00" r="2.2" fill="none" stroke="#333" stroke-width="0.9"/>
<circle cx="178.50" cy="194.20" r="2.2" fill="none" stroke="#222" stroke-width="0.9"/>
<circle cx="170.80" cy="199.10" r="2.2" fill="none" stroke="#222" stroke-width="0.9"/>
<circle cx="115.10" cy="260.50" r="2.2" fill="none" stroke="#222" stroke-width="0.9"/>
<circle cx="97.40" cy="273.30" r="2.2" fill="none" stroke="#222" stroke-width="0.9"/>
<circle cx="117.20" cy="276.50" r="2.2" fill="none" stroke="#222" stroke-width="0.9"/>
<circle cx="116.90" cy="304.50" r="2.2" fill="none" stroke="#222" stroke-width="0.9"/>
<circle cx="139.00" cy="295.90" r="2.2" fill="none" stroke="#222" stroke-width="0.9"/>
<circle cx="73.80" cy="318.10" r="2.2" fill="none" stroke="#222" stroke-width="0.9"/>
<circle cx="186.30" cy="322.00" r="2.2" fill="none" stroke="#222" stroke-width="0.9"/>
<circle cx="100.60" cy="311.40" r="2.2" fill="none" stroke="#222" stroke-width="0.9"/>
<circle cx="110.40" cy="320.70" r="2.2" fill="none" stroke="#222" stroke-width="0.9"/>
<circle cx="103.80" cy="315.90" r="2.2" fill="none" stroke="#222" stroke-width="0.9"/>
<circle cx="77.90" cy="281.60" r="2.2" fill="none" stroke="#222" stroke-width="0.9"/>
<path d="M80.45,246.95L85.35,251.85M80.45,251.85L85.35,246.95" stroke="#000" stroke-width="1.0" fill="none"/>
<path d="M88.15,249.85L93.05,254.75M88.15,254.75L93.05,249.85" stroke="#000" stroke-width="1.0" fill="none"/>
<path d="M65.45,255.25L70.35,260.15M65.45,260.15L70.35,255.25" stroke="#000" stroke-width="1.0" fill="none"/>
<path d="M82.65,257.65L87.55,262.55M82.65,262.55L87.55,257.65" stroke="#000" stroke-width="1.0" fill="none"/>
<path d="M88.45,259.15L93.35,264.05M88.45,264.05L93.35,259.15" stroke="#000" stroke-width="1.0" fill="none"/>
<path d="M69.05,262.35L73.95,267.25M69.05,267.25L73.95,262.35" stroke="#000" stroke-width="1.0" fill="none"/>
<path d="M84.25,263.55L89.15,268.45M84.25,268.45L89.15,263.55" stroke="#000" stroke-width="1.0" fill="none"/>
<path d="M72.55,266.95L77.45,271.85M72.55,271.85L77.45,266.95" stroke="#000" stroke-width="1.0" fill="none"/>
<path d="M78.85,273.45L83.75,278.35M78.85,278.35L83.75,273.45" stroke="#000" stroke-width="1.0" fill="none"/>
<path d="M82.85,281.55L87.75,286.45M82.85,286.45L87.75,281.55" stroke="#000" stroke-width="1.0" fill="none"/>
<path d="M76.75,288.05L81.65,292.95M76.75,292.95L81.65,288.05" stroke="#000" stroke-width="1.0" fill="none"/>
<path d="M81.55,291.95L86.45,296.85M81.55,296.85L86.45,291.95" stroke="#000" stroke-width="1.0" fill="none"/>
<path d="M91.75,285.05L96.65,289.95M91.75,289.95L96.65,285.05" stroke="#000" stroke-width="1.0" fill="none"/>
<path d="M89.45,296.15L94.35,301.05M89.45,301.05L94.35,296.15" stroke="#000" stroke-width="1.0" fill="none"/>
<path d="M70.35,272.05L75.25,276.95M70.35,276.95L75.25,272.05" stroke="#000" stroke-width="1.0" fill="none"/>
<path d="M85.15,265.15L90.05,270.05M85.15,270.05L90.05,265.15" stroke="#000" stroke-width="1.0" fill="none"/>
<path d="M93.85,299.45L98.75,304.35M93.85,304.35L98.75,299.45" stroke="#000" stroke-width="1.0" fill="none"/>
<path d="M101.35,296.95L106.25,301.85M101.35,301.85L106.25,296.95" stroke="#000" stroke-width="1.0" fill="none"/>
<path d="M88.15,303.15L93.05,308.05M88.15,308.05L93.05,303.15" stroke="#000" stroke-width="1.0" fill="none"/>
<path d="M93.85,307.15L98.75,312.05M93.85,312.05L98.75,307.15" stroke="#000" stroke-width="1.0" fill="none"/>
<path d="M107.55,311.95L112.45,316.85M107.55,316.85L112.45,311.95" stroke="#000" stroke-width="1.0" fill="none"/>
<path d="M110.05,315.65L114.95,320.55M110.05,320.55L114.95,315.65" stroke="#000" stroke-width="1.0" fill="none"/>
<path d="M107.35,321.75L112.25,326.65M107.35,326.65L112.25,321.75" stroke="#000" stroke-width="1.0" fill="none"/>
<path d="M114.55,323.85L119.45,328.75M114.55,328.75L119.45,323.85" stroke="#000" stroke-width="1.0" fill="none"/>
<path d="M116.55,323.45L121.45,328.35M116.55,328.35L121.45,323.45" stroke="#000" stroke-width="1.0" fill="none"/>
<path d="M117.55,326.55L122.45,331.45M117.55,331.45L122.45,326.55" stroke="#000" stroke-width="1.0" fill="none"/>
<path d="M115.75,325.55L120.65,330.45M115.75,330.45L120.65,325.55" stroke="#000" stroke-width="1.0" fill="none"/>
<path d="M126.05,330.55L130.95,335.45M126.05,335.45L130.95,330.55" stroke="#000" stroke-width="1.0" fill="none"/>
<path d="M120.45,233.85L125.35,238.75M120.45,238.75L125.35,233.85" stroke="#000" stroke-width="1.0" fill="none"/>
<path d="M140.75,210.95L145.65,215.85M140.75,215.85L145.65,210.95" stroke="#000" stroke-width="1.0" fill="none"/>
<path d="M145.75,213.15L150.65,218.05M145.75,218.05L150.65,213.15" stroke="#000" stroke-width="1.0" fill="none"/>
<path d="M149.45,210.35L154.35,215.25M149.45,215.25L154.35,210.35" stroke="#000" stroke-width="1.0" fill="none"/>
<path d="M149.45,215.95L154.35,220.85M149.45,220.85L154.35,215.95" stroke="#000" stroke-width="1.0" fill="none"/>
<path d="M98.35,308.75L103.25,313.65M98.35,313.65L103.25,308.75" stroke="#000" stroke-width="1.0" fill="none"/>
<path d="M83.05,289.55L87.95,294.45M83.05,294.45L87.95,289.55" stroke="#000" stroke-width="1.0" fill="none"/>
<path d="M84.35,285.15L89.25,290.05M84.35,290.05L89.25,285.15" stroke="#f0f" stroke-width="1.2" fill="none"/>
<path d="M77.15,248.15L82.05,253.05M77.15,253.05L82.05,248.15" stroke="#f0f" stroke-width="1.2" fill="none"/>
<path d="M75.45,253.75L80.35,258.65M75.45,258.65L80.35,253.75" stroke="#f0f" stroke-width="1.2" fill="none"/>
<path d="M84.15,265.55L89.05,270.45M84.15,270.45L89.05,265.55" stroke="#f0f" stroke-width="1.2" fill="none"/>
<path d="M72.95,267.35L77.85,272.25M72.95,272.25L77.85,267.35" stroke="#f0f" stroke-width="1.2" fill="none"/>
<path d="M72.55,270.45L77.45,275.35M72.55,275.35L77.45,270.45" stroke="#f0f" stroke-width="1.2" fill="none"/>
<path d="M70.05,276.35L74.95,281.25M70.05,281.25L74.95,276.35" stroke="#f0f" stroke-width="1.2" fill="none"/>
<path d="M82.55,274.75L87.45,279.65M82.55,279.65L87.45,274.75" stroke="#f0f" stroke-width="1.2" fill="none"/>
<path d="M86.05,286.55L90.95,291.45M86.05,291.45L90.95,286.55" stroke="#f0f" stroke-width="1.2" fill="none"/>
<path d="M89.95,291.45L94.85,296.35M89.95,296.35L94.85,291.45" stroke="#f0f" stroke-width="1.2" fill="none"/>
<path d="M98.75,304.45L103.65,309.35M98.75,309.35L103.65,304.45" stroke="#f0f" stroke-width="1.2" fill="none"/>
<path d="M71.05,273.55L75.95,278.45M71.05,278.45L75.95,273.55" stroke="#f0f" stroke-width="1.2" fill="none"/>
<rect x="83.05" y="257.65" width="4.70" height="4.70" fill="none" stroke="#f22" stroke-width="0.95"/>
<rect x="85.75" y="256.65" width="4.70" height="4.70" fill="none" stroke="#f22" stroke-width="0.95"/>
<rect x="78.25" y="262.85" width="4.70" height="4.70" fill="none" stroke="#f22" stroke-width="0.95"/>
<rect x="68.85" y="271.65" width="4.70" height="4.70" fill="none" stroke="#f22" stroke-width="0.95"/>
<rect x="73.45" y="282.75" width="4.70" height="4.70" fill="none" stroke="#f22" stroke-width="0.95"/>
<rect x="85.15" y="284.15" width="4.70" height="4.70" fill="none" stroke="#f22" stroke-width="0.95"/>
<rect x="100.75" y="300.65" width="4.70" height="4.70" fill="none" stroke="#f22" stroke-width="0.95"/>
<rect x="105.75" y="304.55" width="4.70" height="4.70" fill="none" stroke="#f22" stroke-width="0.95"/>
<rect x="129.75" y="325.35" width="4.70" height="4.70" fill="none" stroke="#f22" stroke-width="0.95"/>
<rect x="136.15" y="326.65" width="4.70" height="4.70" fill="none" stroke="#f22" stroke-width="0.95"/>
<rect x="136.15" y="331.25" width="4.70" height="4.70" fill="none" stroke="#f22" stroke-width="0.95"/>
<rect x="101.65" y="313.85" width="4.70" height="4.70" fill="none" stroke="#f22" stroke-width="0.95"/>
<rect x="176.15" y="191.85" width="4.70" height="4.70" fill="none" stroke="#f22" stroke-width="0.95"/>
<rect x="168.45" y="196.75" width="4.70" height="4.70" fill="none" stroke="#f22" stroke-width="0.95"/>
<rect x="112.75" y="258.15" width="4.70" height="4.70" fill="none" stroke="#f22" stroke-width="0.95"/>
<rect x="95.05" y="270.95" width="4.70" height="4.70" fill="none" stroke="#f22" stroke-width="0.95"/>
<rect x="114.85" y="274.15" width="4.70" height="4.70" fill="none" stroke="#f22" stroke-width="0.95"/>
<rect x="114.55" y="302.15" width="4.70" height="4.70" fill="none" stroke="#f22" stroke-width="0.95"/>
<rect x="136.65" y="293.55" width="4.70" height="4.70" fill="none" stroke="#f22" stroke-width="0.95"/>
<rect x="71.45" y="315.75" width="4.70" height="4.70" fill="none" stroke="#f22" stroke-width="0.95"/>
<rect x="183.95" y="319.65" width="4.70" height="4.70" fill="none" stroke="#f22" stroke-width="0.95"/>
<rect x="98.25" y="309.05" width="4.70" height="4.70" fill="none" stroke="#f22" stroke-width="0.95"/>
<rect x="108.05" y="318.35" width="4.70" height="4.70" fill="none" stroke="#f22" stroke-width="0.95"/>
<rect x="101.45" y="313.55" width="4.70" height="4.70" fill="none" stroke="#f22" stroke-width="0.95"/>
<rect x="75.55" y="279.25" width="4.70" height="4.70" fill="none" stroke="#f22" stroke-width="0.95"/>
<circle cx="376.60" cy="214.80" r="2.2" fill="none" stroke="#333" stroke-width="0.9"/>
<circle cx="382.30" cy="220.00" r="2.2" fill="none" stroke="#333" stroke-width="0.9"/>
<circle cx="393.90" cy="222.10" r="2.2" fill="none" stroke="#333" stroke-width="0.9"/>
<circle cx="393.20" cy="225.50" r="2.2" fill="none" stroke="#333" stroke-width="0.9"/>
<circle cx="375.90" cy="236.60" r="2.2" fill="none" stroke="#333" stroke-width="0.9"/>
<circle cx="376.60" cy="240.90" r="2.2" fill="none" stroke="#333" stroke-width="0.9"/>
<circle cx="357.70" cy="267.30" r="2.2" fill="none" stroke="#333" stroke-width="0.9"/>
<circle cx="354.30" cy="215.80" r="2.2" fill="none" stroke="#222" stroke-width="0.9"/>
<circle cx="313.50" cy="236.70" r="2.2" fill="none" stroke="#222" stroke-width="0.9"/>
<circle cx="388.50" cy="227.10" r="2.2" fill="none" stroke="#222" stroke-width="0.9"/>
<circle cx="367.10" cy="259.00" r="2.2" fill="none" stroke="#222" stroke-width="0.9"/>
<circle cx="384.50" cy="287.60" r="2.2" fill="none" stroke="#222" stroke-width="0.9"/>
<circle cx="323.60" cy="295.30" r="2.2" fill="none" stroke="#222" stroke-width="0.9"/>
<circle cx="457.50" cy="248.00" r="2.2" fill="none" stroke="#222" stroke-width="0.9"/>
<path d="M363.15,217.25L368.05,222.15M363.15,222.15L368.05,217.25" stroke="#f0f" stroke-width="1.2" fill="none"/>
<path d="M384.15,235.45L389.05,240.35M384.15,240.35L389.05,235.45" stroke="#f0f" stroke-width="1.2" fill="none"/>
<path d="M378.85,247.85L383.75,252.75M378.85,252.75L383.75,247.85" stroke="#f0f" stroke-width="1.2" fill="none"/>
<path d="M383.05,273.35L387.95,278.25M383.05,278.25L387.95,273.35" stroke="#f0f" stroke-width="1.2" fill="none"/>
<path d="M369.55,281.45L374.45,286.35M369.55,286.35L374.45,281.45" stroke="#f0f" stroke-width="1.2" fill="none"/>
<path d="M368.35,284.55L373.25,289.45M368.35,289.45L373.25,284.55" stroke="#f0f" stroke-width="1.2" fill="none"/>
<path d="M368.95,287.65L373.85,292.55M368.95,292.55L373.85,287.65" stroke="#f0f" stroke-width="1.2" fill="none"/>
<path d="M364.55,290.15L369.45,295.05M364.55,295.05L369.45,290.15" stroke="#f0f" stroke-width="1.2" fill="none"/>
<path d="M360.65,305.25L365.55,310.15M360.65,310.15L365.55,305.25" stroke="#f0f" stroke-width="1.2" fill="none"/>
<path d="M370.25,314.05L375.15,318.95M370.25,318.95L375.15,314.05" stroke="#f0f" stroke-width="1.2" fill="none"/>
<path d="M364.85,320.65L369.75,325.55M364.85,325.55L369.75,320.65" stroke="#f0f" stroke-width="1.2" fill="none"/>
<path d="M363.15,328.55L368.05,333.45M363.15,333.45L368.05,328.55" stroke="#f0f" stroke-width="1.2" fill="none"/>
<rect x="351.95" y="213.45" width="4.70" height="4.70" fill="none" stroke="#ff5050" stroke-width="0.95"/>
<rect x="311.15" y="234.35" width="4.70" height="4.70" fill="none" stroke="#ff5050" stroke-width="0.95"/>
<rect x="386.15" y="224.75" width="4.70" height="4.70" fill="none" stroke="#ff5050" stroke-width="0.95"/>
<rect x="364.75" y="256.65" width="4.70" height="4.70" fill="none" stroke="#ff5050" stroke-width="0.95"/>
<rect x="382.15" y="285.25" width="4.70" height="4.70" fill="none" stroke="#ff5050" stroke-width="0.95"/>
<rect x="321.25" y="292.95" width="4.70" height="4.70" fill="none" stroke="#ff5050" stroke-width="0.95"/>
<rect x="455.15" y="245.65" width="4.70" height="4.70" fill="none" stroke="#ff5050" stroke-width="0.95"/>
<rect x="336.25" y="195.05" width="4.70" height="4.70" fill="none" stroke="#ff6a6a" stroke-width="1.1"/>
<rect x="380.55" y="255.55" width="4.70" height="4.70" fill="none" stroke="#ff6a6a" stroke-width="1.1"/>
<rect x="382.65" y="264.35" width="4.70" height="4.70" fill="none" stroke="#ff6a6a" stroke-width="1.1"/>
<rect x="366.45" y="277.15" width="4.70" height="4.70" fill="none" stroke="#ff6a6a" stroke-width="1.1"/>
<rect x="369.25" y="301.45" width="4.70" height="4.70" fill="none" stroke="#ff6a6a" stroke-width="1.1"/>
<rect x="352.65" y="338.65" width="4.70" height="4.70" fill="none" stroke="#ff6a6a" stroke-width="1.1"/>
<rect x="370.45" y="264.15" width="4.70" height="4.70" fill="none" stroke="#ff6a6a" stroke-width="1.1"/>
<rect x="370.45" y="268.15" width="4.70" height="4.70" fill="none" stroke="#ff6a6a" stroke-width="1.1"/>
<rect x="375.25" y="260.15" width="4.70" height="4.70" fill="none" stroke="#ff6a6a" stroke-width="1.1"/>
<path d="M371.96,263.44L376.86,268.34M371.96,268.34L376.86,263.44" stroke="#000" stroke-width="1.0" fill="none"/>
<path d="M372.96,264.18L377.86,269.08M372.96,269.08L377.86,264.18" stroke="#000" stroke-width="1.0" fill="none"/>
<path d="M374.91,257.56L379.81,262.46M374.91,262.46L379.81,257.56" stroke="#000" stroke-width="1.0" fill="none"/>
<path d="M370.25,267.05L375.15,271.95M370.25,271.95L375.15,267.05" stroke="#000" stroke-width="1.0" fill="none"/>
<path d="M372.12,259.63L377.02,264.53M372.12,264.53L377.02,259.63" stroke="#000" stroke-width="1.0" fill="none"/>
<path d="M377.72,262.53L382.62,267.43M377.72,267.43L382.62,262.53" stroke="#000" stroke-width="1.0" fill="none"/>
<path d="M376.51,262.61L381.41,267.51M376.51,267.51L381.41,262.61" stroke="#000" stroke-width="1.0" fill="none"/>
<path d="M375.01,258.60L379.91,263.50M375.01,263.50L379.91,258.60" stroke="#000" stroke-width="1.0" fill="none"/>
<path d="M374.97,267.43L379.87,272.33M374.97,272.33L379.87,267.43" stroke="#000" stroke-width="1.0" fill="none"/>
<path d="M374.13,265.87L379.03,270.77M374.13,270.77L379.03,265.87" stroke="#000" stroke-width="1.0" fill="none"/>
<path d="M375.25,257.54L380.15,262.44M375.25,262.44L380.15,257.54" stroke="#000" stroke-width="1.0" fill="none"/>
<path d="M375.91,264.02L380.81,268.92M375.91,268.92L380.81,264.02" stroke="#000" stroke-width="1.0" fill="none"/>
<path d="M372.44,257.13L377.34,262.03M372.44,262.03L377.34,257.13" stroke="#000" stroke-width="1.0" fill="none"/>
<path d="M376.73,262.56L381.63,267.46M376.73,267.46L381.63,262.56" stroke="#000" stroke-width="1.0" fill="none"/>
<path d="M375.61,267.56L380.51,272.46M375.61,272.46L380.51,267.56" stroke="#000" stroke-width="1.0" fill="none"/>
<path d="M375.58,268.08L380.48,272.98M375.58,272.98L380.48,268.08" stroke="#000" stroke-width="1.0" fill="none"/>
<path d="M373.15,266.60L378.05,271.50M373.15,271.50L378.05,266.60" stroke="#000" stroke-width="1.0" fill="none"/>
<path d="M373.53,268.26L378.43,273.16M373.53,273.16L378.43,268.26" stroke="#000" stroke-width="1.0" fill="none"/>
<path d="M376.83,257.95L381.73,262.85M376.83,262.85L381.73,257.95" stroke="#000" stroke-width="1.0" fill="none"/>
<path d="M371.18,259.42L376.08,264.32M371.18,264.32L376.08,259.42" stroke="#000" stroke-width="1.0" fill="none"/>
<path d="M377.49,262.11L382.39,267.01M377.49,267.01L382.39,262.11" stroke="#000" stroke-width="1.0" fill="none"/>
<path d="M374.91,260.45L379.81,265.35M374.91,265.35L379.81,260.45" stroke="#000" stroke-width="1.0" fill="none"/>
<path d="M374.01,261.50L378.91,266.40M374.01,266.40L378.91,261.50" stroke="#000" stroke-width="1.0" fill="none"/>
<path d="M372.82,263.95L377.72,268.85M372.82,268.85L377.72,263.95" stroke="#000" stroke-width="1.0" fill="none"/>
<path d="M374.59,267.87L379.49,272.77M374.59,272.77L379.49,267.87" stroke="#000" stroke-width="1.0" fill="none"/>
<path d="M375.33,268.18L380.23,273.08M375.33,273.08L380.23,268.18" stroke="#000" stroke-width="1.0" fill="none"/>
<path d="M376.66,268.94L381.56,273.84M376.66,273.84L381.56,268.94" stroke="#000" stroke-width="1.0" fill="none"/>
<path d="M375.25,258.76L380.15,263.66M375.25,263.66L380.15,258.76" stroke="#000" stroke-width="1.0" fill="none"/>
<path d="M376.69,268.61L381.59,273.51M376.69,273.51L381.59,268.61" stroke="#000" stroke-width="1.0" fill="none"/>
<path d="M377.03,263.75L381.93,268.65M377.03,268.65L381.93,263.75" stroke="#000" stroke-width="1.0" fill="none"/>
<path d="M375.58,259.35L380.48,264.25M375.58,264.25L380.48,259.35" stroke="#000" stroke-width="1.0" fill="none"/>
<path d="M376.47,263.80L381.37,268.70M376.47,268.70L381.37,263.80" stroke="#000" stroke-width="1.0" fill="none"/>
<path d="M372.32,257.53L377.22,262.43M372.32,262.43L377.22,257.53" stroke="#000" stroke-width="1.0" fill="none"/>
<path d="M376.64,268.92L381.54,273.82M376.64,273.82L381.54,268.92" stroke="#000" stroke-width="1.0" fill="none"/>
<path d="M372.05,271.15L376.95,276.05M372.05,276.05L376.95,271.15" stroke="#000" stroke-width="1.0" fill="none"/>
<path d="M374.95,270.95L379.85,275.85M374.95,275.85L379.85,270.95" stroke="#000" stroke-width="1.0" fill="none"/>
<path d="M377.55,269.85L382.45,274.75M377.55,274.75L382.45,269.85" stroke="#000" stroke-width="1.0" fill="none"/>
<path d="M379.35,268.15L384.25,273.05M379.35,273.05L384.25,268.15" stroke="#000" stroke-width="1.0" fill="none"/>
<path d="M370.55,256.15L375.45,261.05M370.55,261.05L375.45,256.15" stroke="#000" stroke-width="1.0" fill="none"/>
<path d="M377.85,256.35L382.75,261.25M377.85,261.25L382.75,256.35" stroke="#000" stroke-width="1.0" fill="none"/>
<path d="M369.55,262.55L374.45,267.45M369.55,267.45L374.45,262.55" stroke="#000" stroke-width="1.0" fill="none"/>
<g filter="url(#gs)">
<text x="0.00 7.55" y="0" font-size="13.0" transform="translate(14.81,142.10) scale(1.04,1)">20</text>
<text x="0.00 7.55" y="0" font-size="13.0" transform="translate(56.99,142.10) scale(1.04,1)">40</text>
<text x="0.00 7.55" y="0" font-size="13.0" transform="translate(98.85,142.10) scale(1.04,1)">60</text>
<text x="0.00 7.55" y="0" font-size="13.0" transform="translate(140.90,142.10) scale(1.04,1)">80</text>
<text x="0.00" y="0" font-size="13.0" transform="translate(7.75,125.15) scale(1.04,1)">0</text>
<text x="0.00 7.55" y="0" font-size="13.0" transform="translate(-0.10,92.35) scale(1.04,1)">10</text>
<text x="0.00 7.55" y="0" font-size="13.0" transform="translate(-0.10,59.55) scale(1.04,1)">20</text>
<text x="0.00 7.55" y="0" font-size="13.0" transform="translate(-0.10,26.75) scale(1.04,1)">30</text>
<line x1="169.00" y1="137.90" x2="175.70" y2="137.90" stroke="#333" stroke-width="0.9"/>
<text x="0.00 7.55" y="0" font-size="13.0" transform="translate(177.30,142.10) scale(1.04,1)">40</text>
<line x1="211.14" y1="137.90" x2="217.84" y2="137.90" stroke="#333" stroke-width="0.9"/>
<text x="0.00 7.55" y="0" font-size="13.0" transform="translate(219.44,142.10) scale(1.04,1)">20</text>
<text x="0.00" y="0" font-size="13.0" transform="translate(261.09,142.10) scale(1.04,1)">0</text>
<text x="0.00 7.55" y="0" font-size="13.0" transform="translate(299.26,142.10) scale(1.04,1)">20</text>
<text x="0.00" y="0" font-size="13.0" transform="translate(165.95,125.15) scale(1.04,1)">0</text>
<text x="0.00 7.55" y="0" font-size="13.0" transform="translate(158.10,97.15) scale(1.04,1)">10</text>
<text x="0.00 7.55" y="0" font-size="13.0" transform="translate(158.10,69.15) scale(1.04,1)">20</text>
<text x="0.00 7.55" y="0" font-size="13.0" transform="translate(158.10,41.15) scale(1.04,1)">30</text>
<text x="0.00 7.55" y="0" font-size="13.0" transform="translate(158.10,13.15) scale(1.04,1)">40</text>
<line x1="348.62" y1="137.90" x2="355.32" y2="137.90" stroke="#333" stroke-width="0.9"/>
<text x="0.00 7.55" y="0" font-size="13.0" transform="translate(356.92,142.10) scale(1.04,1)">40</text>
<line x1="390.65" y1="137.90" x2="397.35" y2="137.90" stroke="#333" stroke-width="0.9"/>
<text x="0.00 7.55" y="0" font-size="13.0" transform="translate(398.95,142.10) scale(1.04,1)">20</text>
<text x="0.00" y="0" font-size="13.0" transform="translate(440.50,142.10) scale(1.04,1)">0</text>
<text x="0.00" y="0" font-size="13.0" transform="translate(324.25,125.15) scale(1.04,1)">0</text>
<text x="0.00 7.55" y="0" font-size="13.0" transform="translate(316.40,85.03) scale(1.04,1)">20</text>
<text x="0.00 7.55" y="0" font-size="13.0" transform="translate(316.40,44.91) scale(1.04,1)">40</text>
<text x="0" y="0" font-size="13.59" transform="translate(35.52,158.80) scale(0.806,1)" stroke="#333" stroke-width="0.12" >U</text>
<text x="0" y="0" font-size="13.10" transform="translate(50.42,158.00) scale(1.000,1)" stroke="#333" stroke-width="0.12" >(</text>
<text x="0" y="0" font-size="12.98" transform="translate(55.57,158.80) scale(1.008,1)" stroke="#333" stroke-width="0.12" >Km</text>
<text x="0" y="0" font-size="13.00" transform="translate(82.56,158.30) scale(1.381,1)" stroke="#333" stroke-width="0.12" >s</text>
<text x="0" y="0" font-size="8.00" transform="translate(89.75,154.70) scale(1.128,1)" stroke="#333" stroke-width="0.12" >−</text>
<text x="0" y="0" font-size="7.60" transform="translate(95.73,154.60) scale(1.000,1)" stroke="#333" stroke-width="0.12" >1</text>
<text x="0" y="0" font-size="13.10" transform="translate(100.08,158.00) scale(1.000,1)" stroke="#333" stroke-width="0.12" >)</text>
<text x="0" y="0" font-size="13.59" transform="translate(212.00,158.80) scale(0.673,1)" stroke="#333" stroke-width="0.12" >V</text>
<text x="0" y="0" font-size="13.10" transform="translate(225.72,158.00) scale(1.000,1)" stroke="#333" stroke-width="0.12" >(</text>
<text x="0" y="0" font-size="12.98" transform="translate(230.87,158.80) scale(1.008,1)" stroke="#333" stroke-width="0.12" >Km</text>
<text x="0" y="0" font-size="13.00" transform="translate(257.86,158.30) scale(1.381,1)" stroke="#333" stroke-width="0.12" >s</text>
<text x="0" y="0" font-size="8.00" transform="translate(265.05,154.70) scale(1.128,1)" stroke="#333" stroke-width="0.12" >−</text>
<text x="0" y="0" font-size="7.60" transform="translate(271.03,154.60) scale(1.000,1)" stroke="#333" stroke-width="0.12" >1</text>
<text x="0" y="0" font-size="13.10" transform="translate(275.38,158.00) scale(1.000,1)" stroke="#333" stroke-width="0.12" >)</text>
<text x="0" y="0" font-size="13.59" transform="translate(370.49,158.80) scale(0.602,1)" stroke="#333" stroke-width="0.12" >W</text>
<text x="0" y="0" font-size="13.10" transform="translate(384.92,158.00) scale(1.000,1)" stroke="#333" stroke-width="0.12" >(</text>
<text x="0" y="0" font-size="12.98" transform="translate(390.07,158.80) scale(1.008,1)" stroke="#333" stroke-width="0.12" >Km</text>
<text x="0" y="0" font-size="13.00" transform="translate(417.06,158.30) scale(1.381,1)" stroke="#333" stroke-width="0.12" >s</text>
<text x="0" y="0" font-size="8.00" transform="translate(424.25,154.70) scale(1.128,1)" stroke="#333" stroke-width="0.12" >−</text>
<text x="0" y="0" font-size="7.60" transform="translate(430.23,154.60) scale(1.000,1)" stroke="#333" stroke-width="0.12" >1</text>
<text x="0" y="0" font-size="13.10" transform="translate(434.58,158.00) scale(1.000,1)" stroke="#333" stroke-width="0.12" >)</text>
<text x="0.00 8.20 11.84" y="0" font-size="13.6" transform="translate(43.94,364.35) scale(1.03,1)">0.6</text>
<text x="0.00 8.20 11.84" y="0" font-size="13.6" transform="translate(70.31,364.35) scale(1.03,1)">0.8</text>
<text x="0.00" y="0" font-size="13.6" transform="translate(102.54,364.35) scale(1.03,1)">1</text>
<text x="0.00 8.20 11.84" y="0" font-size="13.6" transform="translate(122.72,364.35) scale(1.03,1)">1.2</text>
<text x="0.00 8.20 11.84" y="0" font-size="13.6" transform="translate(148.76,364.35) scale(1.03,1)">1.4</text>
<text x="0.00 8.20 11.84" y="0" font-size="13.6" transform="translate(175.17,364.35) scale(1.03,1)">1.6</text>
<text x="0.00 8.20 11.84" y="0" font-size="13.6" transform="translate(201.55,364.35) scale(1.03,1)">1.8</text>
<text x="0.00" y="0" font-size="13.6" transform="translate(39.53,217.15) scale(1.03,1)">8</text>
<text x="0.00 8.20" y="0" font-size="13.6" transform="translate(31.08,262.35) scale(1.03,1)">10</text>
<text x="0.00 8.20" y="0" font-size="13.6" transform="translate(31.32,307.55) scale(1.03,1)">12</text>
<text x="0" y="0" font-size="14.80" transform="translate(21.90,268.37) rotate(-90) scale(0.774,1)" stroke="#333" stroke-width="0.12" >G</text>
<text x="0" y="0" font-size="13.75" transform="translate(106.61,379.60) scale(0.873,1)" stroke="#333" stroke-width="0.12" >G</text>
<text x="0" y="0" font-size="9.62" transform="translate(116.36,384.40) scale(0.873,1)" stroke="#333" stroke-width="0.12" >BP</text>
<text x="0" y="0" font-size="13.00" transform="translate(127.86,379.80) scale(1.141,1)" stroke="#333" stroke-width="0.12" >−</text>
<text x="0" y="0" font-size="13.75" transform="translate(138.09,379.50) scale(0.907,1)" stroke="#333" stroke-width="0.12" >G</text>
<text x="0" y="0" font-size="9.77" transform="translate(147.75,384.40) scale(0.877,1)" stroke="#333" stroke-width="0.12" >RP</text>
<text x="0.00 8.20 16.41" y="0" font-size="13.6" transform="translate(326.91,364.35) scale(1.03,1)">280</text>
<text x="0.00 8.20 16.41" y="0" font-size="13.6" transform="translate(367.81,364.35) scale(1.03,1)">290</text>
<text x="0.00 8.20 16.41" y="0" font-size="13.6" transform="translate(408.68,364.35) scale(1.03,1)">300</text>
<text x="0.00 8.20 16.41" y="0" font-size="13.6" transform="translate(449.58,364.35) scale(1.03,1)">310</text>
<text x="0.00" y="0" font-size="13.6" transform="translate(291.43,197.25) scale(1.03,1)">0</text>
<line x1="272.98" y1="237.65" x2="280.88" y2="237.65" stroke="#333" stroke-width="0.9"/>
<text x="0.00 8.20" y="0" font-size="13.6" transform="translate(282.98,242.05) scale(1.03,1)">10</text>
<line x1="272.98" y1="282.45" x2="280.88" y2="282.45" stroke="#333" stroke-width="0.9"/>
<text x="0.00 8.20" y="0" font-size="13.6" transform="translate(282.98,286.85) scale(1.03,1)">20</text>
<line x1="272.98" y1="327.25" x2="280.88" y2="327.25" stroke="#333" stroke-width="0.9"/>
<text x="0.00 8.20" y="0" font-size="13.6" transform="translate(282.98,331.65) scale(1.03,1)">30</text>
<text x="0" y="0" font-size="12.38" transform="translate(251.00,275.93) rotate(-90) scale(0.923,1)" stroke="#333" stroke-width="0.12" >DEC</text>
<text x="0" y="0" font-size="13.30" transform="translate(251.00,246.08) rotate(-90) scale(1.000,1)" stroke="#333" stroke-width="0.12" >(</text>
<text x="0" y="0" font-size="8.50" transform="translate(249.40,240.91) rotate(-90) scale(1.000,1)" stroke="#333" stroke-width="0.12" >°</text>
<text x="0" y="0" font-size="13.30" transform="translate(251.00,237.13) rotate(-90) scale(1.000,1)" stroke="#333" stroke-width="0.12" >)</text>
<text x="0" y="0" font-size="13.18" transform="translate(368.30,381.30) scale(0.802,1)" stroke="#333" stroke-width="0.12" >RA</text>
<text x="0" y="0" font-size="13.10" transform="translate(390.22,380.40) scale(1.000,1)" stroke="#333" stroke-width="0.12" >(</text>
<text x="0" y="0" font-size="8.50" transform="translate(395.59,378.80) scale(1.000,1)" stroke="#333" stroke-width="0.12" >°</text>
<text x="0" y="0" font-size="13.10" transform="translate(399.98,380.40) scale(1.000,1)" stroke="#333" stroke-width="0.12" >)</text>
</g>
</svg>
</body></html>
